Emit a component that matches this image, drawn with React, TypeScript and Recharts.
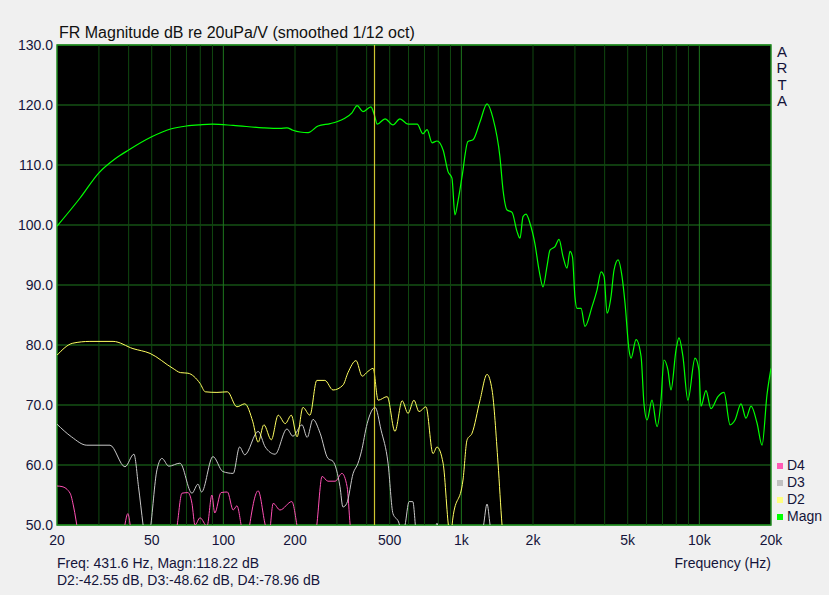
import React from 'react';
import {
    LineChart, Line, XAxis, YAxis, CartesianGrid, ReferenceLine, ReferenceArea
} from 'recharts';

// Magnitude response (green)
const MAGN_F = [20, 25, 30, 35, 40, 50, 60, 70, 80, 90, 110, 147, 173, 185, 196, 210, 227, 250, 281, 300, 324, 347, 365, 386, 417, 432, 443, 478, 516, 552, 597, 652, 690, 718, 753, 790, 838, 879, 913, 940, 970, 1006, 1066, 1120, 1198, 1282, 1358, 1452, 1497, 1556, 1633, 1714, 1764, 1816, 1870, 1942, 2037, 2120, 2203, 2290, 2357, 2475, 2573, 2675, 2780, 2860, 2930, 3000, 3060, 3184, 3307, 3541, 3717, 3864, 3980, 4094, 4256, 4380, 4553, 4733, 4871, 5064, 5165, 5420, 5690, 5850, 6030, 6325, 6640, 6900, 7100, 7380, 7600, 7980, 8210, 8530, 8950, 9590, 9960, 10160, 10660, 11190, 11970, 12700, 13460, 14120, 14960, 15700, 16490, 17470, 18340, 19240, 20000];
const MAGN_DB = [99.8, 104.5, 108.7, 111.0, 112.5, 114.7, 116.0, 116.5, 116.7, 116.8, 116.6, 116.2, 116.1, 116.2, 115.8, 115.5, 115.4, 116.5, 116.9, 117.2, 117.8, 118.7, 119.9, 118.9, 119.7, 118.2, 116.8, 117.7, 116.7, 117.7, 116.8, 116.8, 115.2, 115.9, 113.7, 114.0, 112.5, 108.9, 107.8, 101.7, 104.2, 108.0, 113.9, 114.2, 117.2, 120.2, 117.8, 111.4, 105.8, 102.5, 102.1, 98.9, 97.8, 101.4, 101.8, 100.3, 96.9, 92.5, 89.7, 93.1, 95.8, 96.4, 97.6, 94.7, 92.8, 95.6, 94.7, 88.1, 86.1, 86.1, 83.1, 86.4, 89.2, 92.2, 91.4, 85.3, 88.1, 92.5, 94.2, 91.4, 87.0, 79.2, 77.8, 80.9, 78.1, 70.3, 67.5, 70.8, 66.4, 70.8, 77.5, 75.8, 72.5, 79.2, 81.2, 78.1, 70.8, 77.8, 75.8, 69.8, 72.4, 69.4, 71.4, 72.1, 66.7, 67.5, 70.2, 67.8, 69.8, 67.0, 63.3, 71.7, 76.1];

// 2nd harmonic (yellow)
const D2_F = [20, 23.3, 27.5, 34.4, 41.7, 49.2, 61.4, 66, 71, 79.8, 84, 94, 104, 114, 123, 133, 140, 148, 159, 170, 182, 193, 204, 216, 231, 247, 267, 289, 318, 334, 361, 383, 405, 426, 447, 488, 526, 564, 597, 632, 664, 710, 760, 790, 838, 890, 905, 920, 1016, 1057, 1109, 1198, 1282, 1346, 1426, 1482, 1520];
const D2_DB = [78.3, 80.3, 80.6, 80.6, 79.4, 78.6, 76.1, 75.4, 75.3, 73.6, 72.2, 72.1, 72.2, 69.7, 70.2, 67.2, 63.8, 66.7, 64.2, 68.3, 66.9, 68.3, 64.7, 69.6, 68.3, 74.1, 74.1, 72.5, 73.3, 75.4, 77.4, 74.8, 75.6, 76.1, 70.8, 71.4, 65.6, 70.7, 68.6, 70.8, 68.9, 69.7, 61.9, 63.0, 60.3, 49.0, 48.5, 51.0, 57.5, 64.2, 65.3, 70.8, 75.1, 72.5, 60.3, 50.0, 45.0];

// 3rd harmonic (grey)
const D3_F = [20, 23, 26.7, 33.4, 38.6, 42.1, 44, 46, 47.5, 49.2, 52.6, 55.2, 59, 65.7, 73.8, 78.2, 81, 90.4, 99.6, 110, 117, 123, 140, 150, 165, 185, 196, 214, 225, 238, 255, 275, 289, 309, 318, 330, 351, 368, 380, 402, 434, 460, 492, 516, 545, 565, 580, 603, 625, 650, 700, 770, 790, 810, 1200, 1240, 1282, 1320, 1360];
const D3_DB = [66.8, 64.7, 63.3, 63.3, 59.7, 61.8, 56.4, 50.0, 46.0, 49.0, 59.2, 61.1, 59.8, 60.3, 55.3, 56.8, 55.5, 61.4, 58.9, 58.6, 63.0, 61.7, 65.6, 63.0, 61.8, 66.0, 64.8, 66.7, 64.6, 67.6, 65.3, 61.1, 60.6, 56.4, 53.0, 53.6, 58.6, 60.3, 62.2, 66.9, 69.6, 65.8, 60.3, 51.9, 50.5, 48.5, 50.0, 53.9, 53.9, 48.0, 47.0, 48.5, 50.3, 48.0, 47.0, 50.0, 53.5, 50.0, 46.0];

// 4th harmonic (pink)
const D4_F = [20, 21, 22.7, 23.5, 24.5, 26, 37.5, 39.7, 41.5, 62, 64, 67, 71, 73.8, 76, 79.8, 85.4, 89.5, 92, 97.8, 104, 110, 114, 120, 125, 129, 140, 150, 155, 162, 173, 194, 206, 215, 240, 247, 260, 275, 295, 315, 331, 341, 350];
const D4_DB = [56.5, 56.4, 55.3, 53.0, 49.0, 46.0, 48.0, 51.9, 48.0, 46.0, 50.0, 55.3, 55.4, 53.6, 50.0, 51.2, 49.8, 55.0, 52.0, 55.4, 55.5, 52.5, 53.2, 49.0, 46.0, 50.0, 55.7, 50.0, 48.0, 53.6, 52.5, 53.9, 49.0, 46.0, 46.0, 50.0, 58.1, 57.3, 57.3, 58.6, 56.4, 50.0, 46.0];

const X_TICKS = [20, 50, 100, 200, 500, 1000, 2000, 5000, 10000, 20000];
const Y_TICKS = [50, 60, 70, 80, 90, 100, 110, 120, 130];
const MAJOR_GRID = [100, 1000, 10000];
const MINOR_GRID = [30, 40, 50, 60, 70, 80, 90, 200, 300, 400, 500, 600, 700, 800, 900,
    2000, 3000, 4000, 5000, 6000, 7000, 8000, 9000];
const CURSOR_F = 431.6;

const LEGEND = [
    { name: 'D4', color: '#ff5ab4' },
    { name: 'D3', color: '#c0c0c0' },
    { name: 'D2', color: '#ffff80' },
    { name: 'Magn', color: '#00ff00' },
];

const toRows = (f: number[], db: number[]) => f.map((x, i) => ({ f: x, v: db[i] }));

const magnData = toRows(MAGN_F, MAGN_DB);
const d2Data = toRows(D2_F, D2_DB);
const d3Data = toRows(D3_F, D3_DB);
const d4Data = toRows(D4_F, D4_DB);

const fmtFreq = (v: number) => (v >= 1000 ? `${v / 1000}k` : `${v}`);

const FONT = '"Liberation Sans", Arial, sans-serif';
const TEXT = '#14143a';

export default function App() {
    return (
        <div style={{
            position: 'fixed', left: 0, top: 0, width: 829, height: 595,
            background: '#f0f0f0', fontFamily: FONT, color: TEXT, overflow: 'hidden'
        }}>
            <div style={{ position: 'absolute', left: 59, top: 24, fontSize: 16, lineHeight: '18px', color: '#111' }}>
                FR Magnitude dB re 20uPa/V (smoothed 1/12 oct)
            </div>

            <LineChart
                width={829}
                height={595}
                margin={{ top: 45, right: 58, bottom: 0, left: 0 }}
                style={{ position: 'absolute', left: 0, top: 0 }}
            >
                <CartesianGrid vertical={false} stroke="#1e781e" fill="#000" strokeWidth={1} />
                <XAxis
                    dataKey="f"
                    type="number"
                    scale="log"
                    domain={[20, 20000]}
                    allowDataOverflow
                    ticks={X_TICKS}
                    interval={0}
                    tickFormatter={fmtFreq}
                    height={70}
                    tickSize={0}
                    tickMargin={10}
                    axisLine={false}
                    tick={{ fill: TEXT, fontSize: 14, fontFamily: FONT }}
                />
                <YAxis
                    type="number"
                    domain={[50, 130]}
                    allowDataOverflow
                    ticks={Y_TICKS}
                    interval={0}
                    tickFormatter={(v: number) => v.toFixed(1)}
                    width={57}
                    tickSize={0}
                    tickMargin={4}
                    axisLine={false}
                    tick={{ fill: TEXT, fontSize: 14, fontFamily: FONT }}
                />
                {MINOR_GRID.map(f => (
                    <ReferenceLine key={`mi-${f}`} x={f} stroke="#104810" strokeWidth={1} />
                ))}
                {MAJOR_GRID.map(f => (
                    <ReferenceLine key={`ma-${f}`} x={f} stroke="#1e781e" strokeWidth={1} />
                ))}
                <Line data={d4Data} dataKey="v" type="monotone" stroke="#ff50b4" strokeWidth={1} dot={false} isAnimationActive={false} />
                <Line data={d3Data} dataKey="v" type="monotone" stroke="#c8c8c8" strokeWidth={1} dot={false} isAnimationActive={false} />
                <Line data={d2Data} dataKey="v" type="monotone" stroke="#ffff60" strokeWidth={1} dot={false} isAnimationActive={false} />
                <Line data={magnData} dataKey="v" type="monotone" stroke="#00ff00" strokeWidth={1.2} dot={false} isAnimationActive={false} />
                <ReferenceLine x={CURSOR_F} stroke="#cfc530" strokeWidth={1.2} />
                <ReferenceArea x1={20} x2={20000} y1={50} y2={130} fill="#000" fillOpacity={0} stroke="#1f8a1f" strokeWidth={1.5} ifOverflow="visible" />
            </LineChart>

            <div style={{ position: 'absolute', left: 776, top: 44, fontSize: 15, lineHeight: '16.3px', width: 12, textAlign: 'center' }}>
                <div>A</div><div>R</div><div>T</div><div>A</div>
            </div>

            <div style={{ position: 'absolute', left: 777, top: 457, fontSize: 14, lineHeight: '17px' }}>
                {LEGEND.map(item => (
                    <div key={item.name} style={{ display: 'flex', alignItems: 'center', height: 17 }}>
                        <span style={{ width: 6, height: 6, background: item.color, marginRight: 4 }} />
                        <span>{item.name}</span>
                    </div>
                ))}
            </div>

            <div style={{ position: 'absolute', left: 57, top: 555, fontSize: 14, lineHeight: '17px' }}>
                <div>Freq: 431.6 Hz, Magn:118.22 dB</div>
                <div>D2:-42.55 dB, D3:-48.62 dB, D4:-78.96 dB</div>
            </div>

            <div style={{ position: 'absolute', right: 58, top: 555, fontSize: 14, lineHeight: '17px' }}>
                Frequency (Hz)
            </div>
        </div>
    );
}
